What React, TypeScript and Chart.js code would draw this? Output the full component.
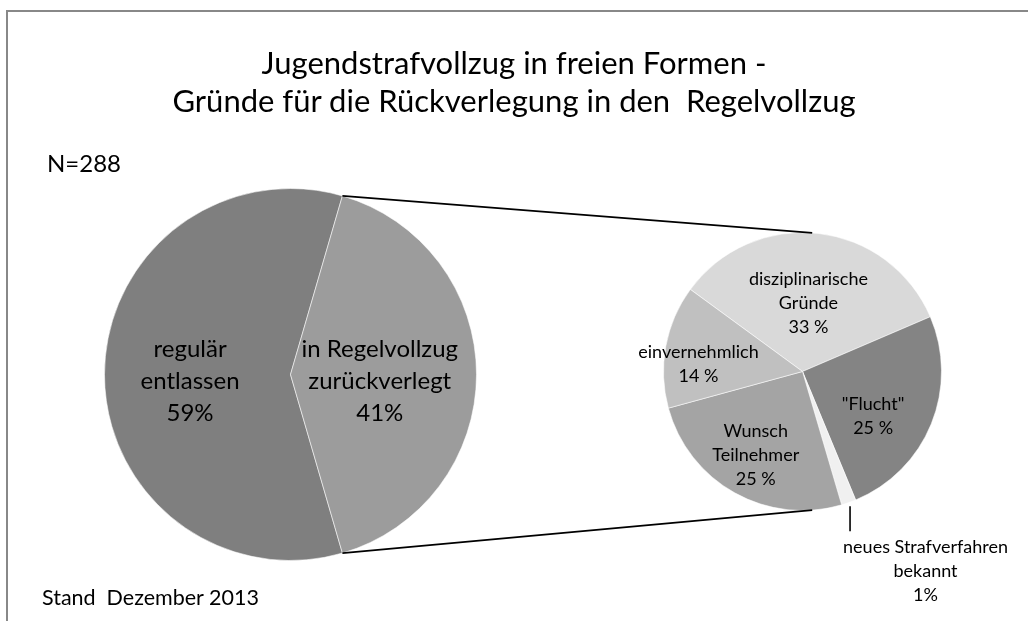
import React, { useEffect, useRef } from 'react';
import { Chart, registerables } from 'chart.js';

Chart.register(...registerables);

// ---- data ----
const titleLines = ['Jugendstrafvollzug in freien Formen -', 'Gründe für die Rückverlegung in den  Regelvollzug'];
const sampleNote = 'N=288';
const footnote = 'Stand  Dezember 2013';

const mainCategories = ['regulär entlassen', 'in Regelvollzug zurückverlegt'];
const mainShares = [59, 41];
const mainLabelLines = [
  ['regulär', 'entlassen', '59%'],
  ['in Regelvollzug', 'zurückverlegt', '41%'],
];

const detailCategories = ['disziplinarische Gründe', '"Flucht"', 'neues Strafverfahren bekannt', 'Wunsch Teilnehmer', 'einvernehmlich'];
const detailShares = [33.5, 25.2, 1.7, 25.3, 14.3];
const detailLabelLines = [
  ['disziplinarische', 'Gründe', '33 %'],
  ['"Flucht"', '25 %'],
  ['neues Strafverfahren', 'bekannt', '1%'],
  ['Wunsch', 'Teilnehmer', '25 %'],
  ['einvernehmlich', '14 %'],
];

// ---- styles ----
const FONT = 'Lato, "Open Sans", sans-serif';
const mainColors = ['#7f7f7f', '#9c9c9c'];
const detailColors = ['#d9d9d9', '#848484', '#f0f0f0', '#a4a4a4', '#c0c0c0'];
const W = 1028;
const H = 621;

const rad = (d: number) => (d * Math.PI) / 180;

const sliceLabelPlugin = {
  id: 'sliceLabels',
  afterDatasetsDraw(chart: any, _args: any, opts: any) {
    const { ctx } = chart;
    const arcs = chart.getDatasetMeta(0).data;
    ctx.save();
    ctx.fillStyle = '#000';
    ctx.strokeStyle = '#000';
    ctx.font = `${opts.size}px ${FONT}`;
    ctx.textAlign = 'center';
    ctx.textBaseline = 'middle';
    arcs.forEach((arc: any, i: number) => {
      const { x, y, startAngle, endAngle, outerRadius } = arc.getProps(['x', 'y', 'startAngle', 'endAngle', 'outerRadius'], true);
      const lines: string[] = opts.lines[i];
      const mid = (startAngle + endAngle) / 2;
      if (opts.external && opts.external[i]) {
        const px = x + Math.cos(mid) * (outerRadius + 4);
        const py = y + Math.sin(mid) * (outerRadius + 4);
        ctx.lineWidth = 1.6;
        ctx.beginPath();
        ctx.moveTo(px, py);
        ctx.lineTo(px, py + 25);
        ctx.stroke();
        const maxW = Math.max(...lines.map((t) => ctx.measureText(t).width));
        const cx = px - 7 + maxW / 2;
        lines.forEach((t, k) => ctx.fillText(t, cx, py + 25 + 16 + k * opts.lineHeight));
        return;
      }
      const a = mid + rad(opts.turn ? opts.turn[i] : 0);
      const f = opts.radius[i];
      const cx = x + Math.cos(a) * f * outerRadius;
      const cy = y + Math.sin(a) * f * outerRadius + (opts.shiftY || 0);
      lines.forEach((t, k) => ctx.fillText(t, cx, cy + (k - (lines.length - 1) / 2) * opts.lineHeight));
    });
    ctx.restore();
  },
};

export default function App() {
  const mainRef = useRef<HTMLCanvasElement | null>(null);
  const detailRef = useRef<HTMLCanvasElement | null>(null);

  useEffect(() => {
    if (!mainRef.current || !detailRef.current) return;
    const mainTotal = mainShares.reduce((a, b) => a + b, 0);
    const mainChart = new Chart(mainRef.current, {
      type: 'pie',
      data: {
        labels: mainCategories,
        datasets: [
          {
            data: mainShares,
            backgroundColor: mainColors,
            borderColor: 'rgba(255,255,255,0.55)',
            borderWidth: 1,
          },
        ],
      },
      options: {
        responsive: false,
        animation: false,
        events: [],
        // centre the split-off slice on the right-hand side
        rotation: 90 + ((mainShares[1] / mainTotal) * 360) / 2,
        layout: { padding: { left: 104, top: 188, right: 551, bottom: 60 } },
        plugins: {
          legend: { display: false },
          tooltip: { enabled: false },
          title: { display: false },
          sliceLabels: { lines: mainLabelLines, size: 24, lineHeight: 32, radius: [0.54, 0.48], shiftY: 7 },
        } as any,
      },
      plugins: [sliceLabelPlugin],
    });

    const connectorPlugin = {
      id: 'connectors',
      afterDatasetsDraw(chart: any) {
        const src = mainChart.getDatasetMeta(0).data[1] as any;
        const s = src.getProps(['x', 'y', 'startAngle', 'endAngle', 'outerRadius'], true);
        const dst = chart.getDatasetMeta(0).data[0] as any;
        const d = dst.getProps(['x', 'y', 'outerRadius'], true);
        const { ctx } = chart;
        const pts = [
          [s.startAngle, rad(-86)],
          [s.endAngle, rad(86)],
        ];
        ctx.save();
        ctx.strokeStyle = '#000';
        ctx.lineWidth = 1.7;
        pts.forEach(([a0, a1]) => {
          ctx.beginPath();
          ctx.moveTo(s.x + Math.cos(a0) * s.outerRadius, s.y + Math.sin(a0) * s.outerRadius);
          ctx.lineTo(d.x + Math.cos(a1) * d.outerRadius, d.y + Math.sin(a1) * d.outerRadius);
          ctx.stroke();
        });
        ctx.restore();
      },
    };

    const detailChart = new Chart(detailRef.current, {
      type: 'pie',
      data: {
        labels: detailCategories,
        datasets: [
          {
            data: detailShares,
            backgroundColor: detailColors,
            borderColor: 'rgba(255,255,255,0.55)',
            borderWidth: 1,
          },
        ],
      },
      options: {
        responsive: false,
        animation: false,
        events: [],
        rotation: 306.2,
        layout: { padding: { left: 663, top: 232, right: 86, bottom: 110 } },
        plugins: {
          legend: { display: false },
          tooltip: { enabled: false },
          title: { display: false },
          sliceLabels: {
            lines: detailLabelLines,
            size: 18,
            lineHeight: 24,
            radius: [0.49, 0.6, 0, 0.69, 0.75],
            turn: [-1.5, 10, 0, 0, -6.6],
            external: [false, false, true, false, false],
          },
        } as any,
      },
      plugins: [sliceLabelPlugin, connectorPlugin],
    });

    return () => {
      detailChart.destroy();
      mainChart.destroy();
    };
  }, []);

  const abs: React.CSSProperties = { position: 'fixed', left: 0, top: 0, display: 'block' };

  return (
    <div style={{ fontFamily: FONT, color: '#000' }}>
      <style>{'html,body{overflow:hidden;background:#fff}'}</style>
      <div
        style={{
          position: 'fixed',
          left: 6,
          top: 10,
          width: 1100,
          height: 700,
          borderTop: '2px solid #888',
          borderLeft: '2px solid #888',
          boxSizing: 'border-box',
        }}
      />
      <canvas ref={mainRef} width={W} height={H} style={abs} />
      <canvas ref={detailRef} width={W} height={H} style={abs} />
      <div
        style={{
          position: 'fixed',
          left: 0,
          top: 43,
          width: W,
          textAlign: 'center',
          fontSize: 31,
          lineHeight: '38px',
          whiteSpace: 'pre',
        }}
      >
        {titleLines.map((t) => (
          <div key={t}>{t}</div>
        ))}
      </div>
      <div style={{ position: 'fixed', left: 47, top: 148, fontSize: 24, lineHeight: '30px' }}>{sampleNote}</div>
      <div style={{ position: 'fixed', left: 42, top: 585, fontSize: 21.5, lineHeight: '24px', whiteSpace: 'pre' }}>{footnote}</div>
    </div>
  );
}
